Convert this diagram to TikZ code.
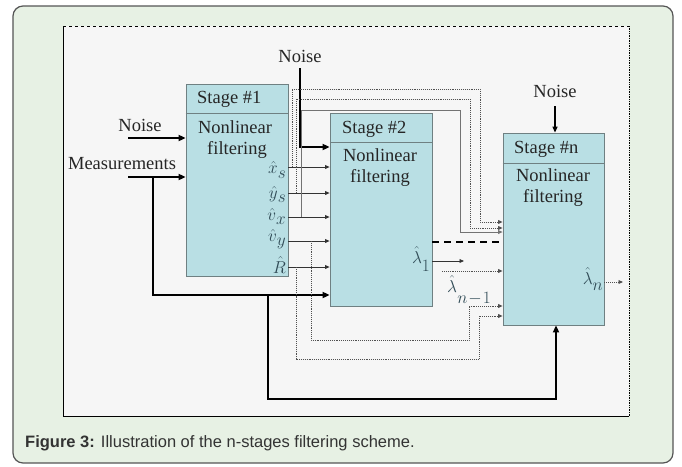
\documentclass[tikz,border=0pt]{standalone}
\usepackage{fontspec}
\setmainfont{Liberation Serif}
\newfontfamily\capfont{Liberation Sans}
\usetikzlibrary{arrows.meta}
\definecolor{outerbg}{HTML}{E7F1E4}
\definecolor{outerline}{HTML}{555555}
\definecolor{innerbg}{HTML}{F6F6F6}
\definecolor{boxfill}{HTML}{B9DFE4}
\definecolor{boxline}{HTML}{6F8082}
\definecolor{labc}{HTML}{2F4A55}
\definecolor{loopc}{HTML}{505050}
\definecolor{capc}{HTML}{333333}
\newcommand{\lowsub}[2]{\raisebox{-#1}{$#2$}}
\tikzset{
  stagebox/.style={draw=boxline, fill=boxfill, line width=0.8pt, inner sep=0pt, minimum width=102pt, minimum height=192pt},
  lbl/.style={font=\fontsize{18.5}{22}\selectfont, inner sep=0pt, text=black!85},
  mlbl/.style={font=\fontsize{19}{20}\selectfont, inner sep=0pt, text=labc},
  heavy/.style={line width=1.8pt, -{Triangle[length=7pt,width=6pt]}},
  thinarr/.style={line width=0.8pt, draw=black!80, -{Triangle[length=4.5pt,width=3.8pt]}},
  loopline/.style={draw=loopc, line width=0.9pt, densely dotted, -{Triangle[length=4.5pt,width=3.8pt]}},
  loopsolid/.style={draw=loopc!80, line width=0.8pt, -{Triangle[length=4.5pt,width=3.8pt]}},
}
\begin{document}
\begin{tikzpicture}[x=1pt,y=-1pt]
\useasboundingbox (0,0) rectangle (682,466);
% outer frame
\draw[fill=outerbg, draw=outerline, line width=1.2pt, rounded corners=10pt] (13,6) rectangle (673,463);
% inner frame
\fill[innerbg] (63,26) rectangle (629,416);
\draw[line width=0.7pt] (63,26) -- (63,416) -- (629,416);
\draw[line width=0.7pt, dashed] (63,26) -- (629,26);
\draw[line width=0.7pt, densely dotted] (629,26) -- (629,416);

% stage boxes
\node[stagebox] (s1) at (237,180) {};
\node[stagebox, minimum height=193pt] (s2) at (381,209.5) {};
\node[stagebox, minimum width=101pt] (sn) at (553.5,229) {};
\draw[boxline, line width=0.8pt] (s1.west |- 0,113) -- (s1.east |- 0,113);
\draw[boxline, line width=0.8pt] (s2.west |- 0,142) -- (s2.east |- 0,142);
\draw[boxline, line width=0.8pt] (sn.west |- 0,163) -- (sn.east |- 0,163);

% stage texts
\node[lbl, anchor=west] (t1a) at (197,99) {Stage \#1};
\node[lbl] (t1b) at (235,127) {Nonlinear};
\node[lbl] (t1c) at (237,150) {filtering};
\node[lbl, anchor=west] (t2a) at (342,129) {Stage \#2};
\node[lbl] (t2b) at (380,155) {Nonlinear};
\node[lbl] (t2c) at (380,178) {filtering};
\node[lbl, anchor=west] (tna) at (514,149) {Stage \#n};
\node[lbl] (tnb) at (553,175) {Nonlinear};
\node[lbl] (tnc) at (553,198) {filtering};

% outer labels
\node[lbl] (nz1) at (300,56) {Noise};
\node[lbl] (nz0) at (140,125) {Noise};
\node[lbl] (nzn) at (555,91) {Noise};
\node[lbl] (meas) at (122,164) {Measurements};

% output labels of stage 1
\node[mlbl, anchor=east] (lx) at (286,170) {$\hat{x}$\lowsub{5pt}{s}};
\node[mlbl, anchor=east] (ly) at (286,194) {$\hat{y}$\lowsub{4pt}{s}};
\node[mlbl, anchor=east] (lvx) at (286,216) {$\hat{v}$\lowsub{4pt}{x}};
\node[mlbl, anchor=east] (lvy) at (286,239) {$\hat{v}$\lowsub{4pt}{y}};
\node[mlbl, anchor=east] (lr) at (286,265) {$\hat{R}$};
\node[mlbl, anchor=east] (l1) at (430,259) {$\hat{\lambda}$\lowsub{8pt}{1}};
\node[mlbl] (lnm) at (452,284) {$\hat{\lambda}$};
\node[mlbl] (lnms) at (474,299) {$n\!-\!1$};
\node[mlbl, anchor=east] (ln) at (603,279) {$\hat{\lambda}$\lowsub{6pt}{n}};

% noise inputs
\coordinate (nz1a) at (300,68);
\draw[heavy] (nz1a) |- (s2.west |- 0,147);
\coordinate (nz0a) at (128,138);
\draw[heavy] (nz0a) -- (s1.west |- nz0a);
\coordinate (nzna) at (555,106);
\draw[line width=1.2pt, -{Triangle[length=6pt,width=5pt]}] (nzna) -- (sn.north -| nzna);

% measurements
\coordinate (ma) at (128,177);
\coordinate (mb) at (153,177);
\coordinate (mc) at (268,295);
\draw[heavy] (ma) -- (s1.west |- ma);
\draw[heavy] (mb) |- (s2.west |- 0,295);
\draw[heavy] (mc) |- (556,399) -- (sn.south -| 556,0);

% stage1 -> stage2 outputs
\foreach \yy in {167,193,217,241,267}{
  \draw[thinarr] (s1.east |- 0,\yy) -- (s2.west |- 0,\yy);
}

% loops from stage 1 to stage n
\draw[loopline] (292,167) -- (292,89) -- (480,89) -- (480,222) -- (sn.west |- 0,222);
\draw[loopline] (296,193) -- (296,99) -- (470,99) -- (470,228) -- (sn.west |- 0,228);
\draw[loopsolid] (301,217) -- (301,110) -- (460,110) -- (460,232) -- (sn.west |- 0,232);
\draw[loopline] (311,241) -- (311,340) -- (469,340) -- (469,306) -- (sn.west |- 0,306);
\draw[loopline] (296,267) -- (296,359) -- (479,359) -- (479,316) -- (sn.west |- 0,316);

% stage 2 outputs
\draw[line width=1.6pt, dash pattern=on 7pt off 5pt] (s2.east |- 0,242) -- (sn.west |- 0,242);
\coordinate (l1e) at (464,261);
\draw[thinarr] (s2.east |- l1e) -- (l1e);
\coordinate (lnms0) at (442,271);
\draw[loopline] (lnms0) -- (sn.west |- lnms0);
\coordinate (lne) at (623,282);
\draw[loopline] (sn.east |- lne) -- (lne);

% caption
\node[anchor=west, inner sep=0pt, text=capc, font=\capfont\fontsize{16.5}{20}\selectfont] (cap) at (25,443) {\textbf{Figure 3:} Illustration of the n-stages filtering scheme.};
\end{tikzpicture}
\end{document}
